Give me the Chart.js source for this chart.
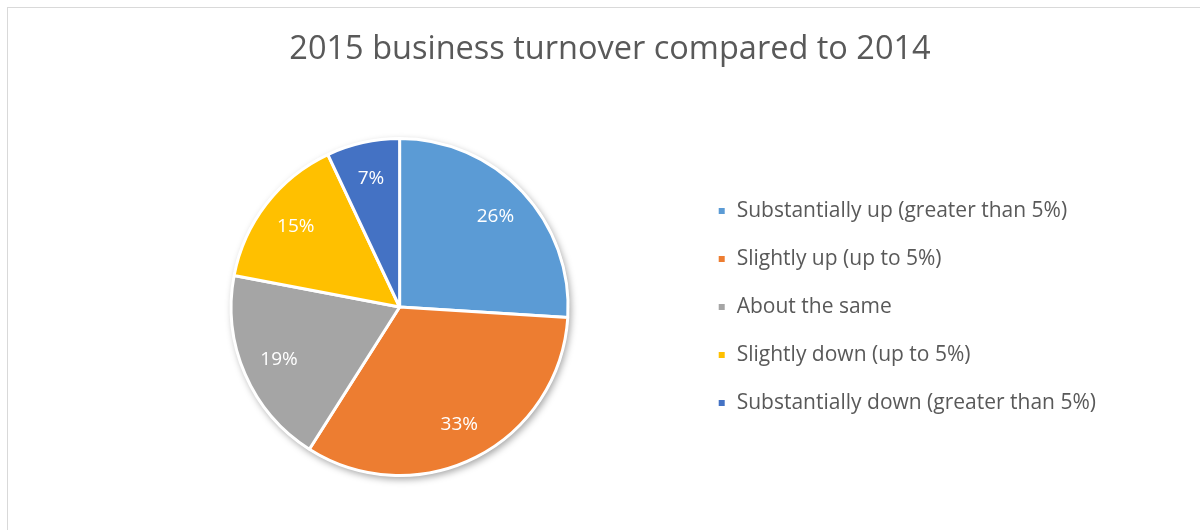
<!DOCTYPE html>
<html>
<head>
<meta charset="utf-8">
<script src="https://cdn.jsdelivr.net/npm/chart.js@4.4.0/dist/chart.umd.min.js"></script>
<style>
  html, body { margin: 0; padding: 0; background: #fff; overflow: hidden; }
  #frame { position: absolute; left: 7px; top: 7px; width: 1300px; height: 700px; border: 1px solid #d9d9d9; }
  #wrap { position: absolute; left: 0; top: 0; width: 1200px; height: 530px; }
</style>
</head>
<body>
<div id="frame"></div>
<div id="wrap"><canvas id="mainChart" width="1200" height="530"></canvas></div>
<script>
const main = document.getElementById("mainChart");

let chartTitle = "2015 business turnover compared to 2014";
let labels = [
    "Substantially up (greater than 5%)",
    "Slightly up (up to 5%)",
    "About the same",
    "Slightly down (up to 5%)",
    "Substantially down (greater than 5%)"
];
let shares = [26, 33, 19, 15, 7];
let sliceColors = ["#5b9bd5", "#ed7d31", "#a5a5a5", "#ffc000", "#4472c4"];

// title drawn in the top band so the legend stays centred next to the pie
const topTitle = {
    id: "topTitle",
    afterDraw(chart) {
        const ctx = chart.ctx;
        ctx.save();
        ctx.fillStyle = "#595959";
        ctx.font = "32.5px 'Open Sans'";
        ctx.textAlign = "center";
        ctx.textBaseline = "middle";
        ctx.fillText(chartTitle, 610, 50);
        ctx.restore();
    }
};

// soft drop shadow under the whole pie
const pieShadow = {
    id: "pieShadow",
    beforeDatasetsDraw(chart) {
        const arc = chart.getDatasetMeta(0).data[0];
        if (!arc) return;
        const ctx = chart.ctx;
        ctx.save();
        ctx.shadowColor = "rgba(0,0,0,0.35)";
        ctx.shadowBlur = 7;
        ctx.shadowOffsetX = 2;
        ctx.shadowOffsetY = 3;
        ctx.fillStyle = "#fff";
        ctx.beginPath();
        ctx.arc(arc.x, arc.y, arc.outerRadius + 1, 0, Math.PI * 2);
        ctx.fill();
        ctx.restore();
    }
};

// percentage labels inside each slice
const sliceLabels = {
    id: "sliceLabels",
    afterDatasetsDraw(chart) {
        const ctx = chart.ctx;
        const values = chart.data.datasets[0].data;
        ctx.save();
        ctx.fillStyle = "#fff";
        ctx.font = "19px 'Open Sans'";
        ctx.textAlign = "center";
        ctx.textBaseline = "middle";
        chart.getDatasetMeta(0).data.forEach((arc, i) => {
            const mid = (arc.startAngle + arc.endAngle) / 2;
            const r = arc.outerRadius * 0.78;
            ctx.fillText(values[i] + "%", arc.x + Math.cos(mid) * r, arc.y + Math.sin(mid) * r);
        });
        ctx.restore();
    }
};

new Chart(main, {
    type: "pie",
    data: {
        labels: labels,
        datasets: [{
            data: shares,
            backgroundColor: sliceColors,
            borderColor: "#fff",
            borderWidth: 3
        }]
    },
    options: {
        responsive: false,
        animation: false,
        layout: { padding: { left: 109, right: 94, top: 137, bottom: 53 } },
        plugins: {
            title: { display: false },
            legend: {
                position: "right",
                labels: {
                    color: "#595959",
                    font: { family: "'Open Sans'", size: 21 },
                    boxWidth: 9,
                    boxHeight: 9,
                    padding: 27
                }
            },
            tooltip: { enabled: false }
        }
    },
    plugins: [pieShadow, sliceLabels, topTitle]
});
</script>
</body>
</html>
